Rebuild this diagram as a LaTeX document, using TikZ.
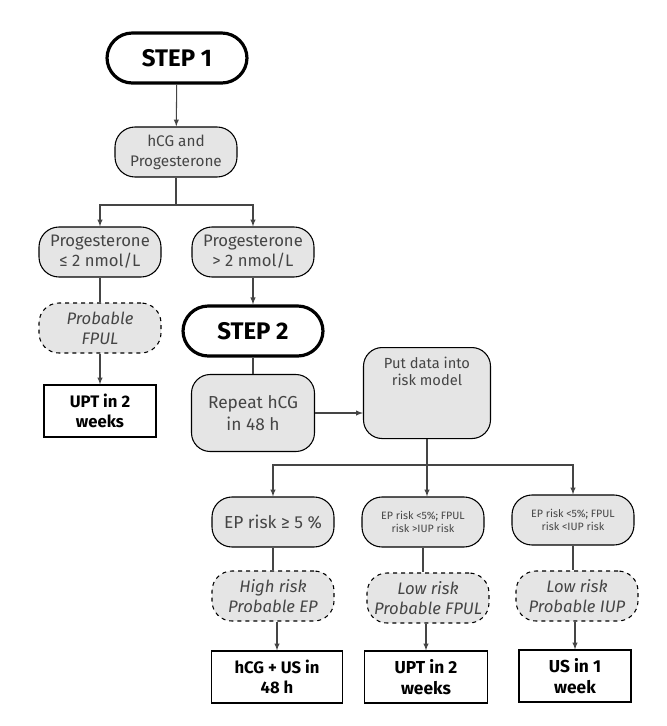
\documentclass[tikz,border=0pt]{standalone}
\usepackage{fontspec}
\setmainfont{Fira Sans}
\definecolor{boxfill}{rgb}{0.9,0.9,0.9}
\definecolor{txt}{rgb}{0.27,0.27,0.27}
\begin{document}
\begin{tikzpicture}[x=0.75pt,y=0.75pt,yscale=-1,xscale=1,
  every node/.style={align=center,text=txt,font=\fontsize{12.5}{15}\selectfont,inner sep=1pt},
  stepbox/.style={draw,line width=2.4pt,rounded corners=19pt,minimum width=140pt*0.75,minimum height=50pt*0.75,text=black,font=\fontsize{18}{20}\selectfont\bfseries},
  test/.style={draw,thick,fill=boxfill,rounded corners=15pt,minimum width=122pt*0.75,minimum height=50pt*0.75},
  prob/.style={draw,thick,dashed,fill=boxfill,rounded corners=15pt,minimum width=122pt*0.75,minimum height=50pt*0.75,font=\fontsize{12.5}{15}\selectfont\itshape},
  act/.style={draw,thick,minimum height=52pt*0.75,text=black,font=\fontsize{12.5}{15}\selectfont\bfseries},
  arr/.style={-latex,thick,draw=txt},
  ln/.style={thick,draw=txt}]
			\useasboundingbox (0,0) rectangle (667,726);
			
			\node[stepbox] (step1) at (177,58) {STEP 1};
			\node[test,font=\fontsize{11.5}{15}\selectfont] (hcg) at (176,152) {hCG and\\Progesterone};
			\node[test] (plow) at (100,252) {Progesterone\\≤ 2 nmol/L};
			\node[test] (phigh) at (253,252) {Progesterone\\> 2 nmol/L};
			\node[prob] (fpul) at (100,328) {Probable\\FPUL};
			\node[stepbox] (step2) at (253,331) {STEP 2};
			\node[act,minimum width=112pt*0.75] (upt1) at (100,411) {UPT in 2\\weeks};
			\node[test,rounded corners=14pt,minimum width=123pt*0.75,minimum height=77pt*0.75,font=\fontsize{13}{16}\selectfont] (repeat) at (253,413) {Repeat hCG\\in 48 h};
			\node[test,rounded corners=14pt,minimum width=127pt*0.75,minimum height=91pt*0.75,anchor=north,font=\fontsize{11}{13}\selectfont] (model) at (427,347) {\\[-4pt]Put data into\\risk model\\[20pt]};
			
			\node[test,font=\fontsize{13}{16}\selectfont] (ephigh) at (273,522) {EP risk ≥ 5 \%};
			\node[test,font=\fontsize{8}{10}\selectfont] (epfpul) at (423,522) {EP risk <5\%; FPUL\\risk >IUP risk};
			\node[test,font=\fontsize{8}{10}\selectfont] (epiup) at (573,520) {EP risk <5\%; FPUL\\risk <IUP risk};
			\node[prob] (highrisk) at (273,596) {High risk\\Probable EP};
			\node[prob] (lowfpul) at (428,598) {Low risk\\Probable FPUL};
			\node[prob] (lowiup) at (577,596) {Low risk\\Probable IUP};
			\node[act,minimum width=131pt*0.75] (hcgus) at (277,677) {hCG + US in\\48 h};
			\node[act,minimum width=123pt*0.75,font=\fontsize{13}{16}\selectfont\bfseries] (upt2) at (426,677) {UPT in 2\\weeks};
			\node[act,minimum width=112pt*0.75,font=\fontsize{13}{16}\selectfont\bfseries] (us1) at (575,676) {US in 1\\week};
			
			% step 1
			\draw[arr] (step1) -- (hcg);
			\draw[ln] (hcg.south) -- (176,205) coordinate (split1);
			\draw[arr] (split1) -| (plow);
			\draw[arr] (split1) -| (phigh);
			\draw[ln] (plow) -- (fpul);
			\draw[arr] (fpul) -- (upt1);
			\draw[arr] (phigh) -- (step2);
			% step 2
			\draw[ln] (step2) -- (repeat);
			\draw[arr] (repeat.east) -- (model.west |- repeat.east);
			\draw[ln] (model.south) -- (427,465) coordinate (split2);
			\draw[arr] (split2) -| (ephigh);
			\draw[arr] (split2) -| (epiup);
			\draw[arr] (split2) -- (split2 |- epfpul.north);
			\draw[ln] (ephigh) -- (highrisk);
			\draw[ln] (epfpul) -- (epfpul.south |- lowfpul.north);
			\draw[ln] (epiup) -- (epiup.south |- lowiup.north);
			\draw[arr] (highrisk.south -| hcgus) -- (hcgus);
			\draw[arr] (lowfpul.south -| upt2) -- (upt2);
			\draw[arr] (lowiup.south -| us1) -- (us1);
			\end{tikzpicture}
\end{document}
